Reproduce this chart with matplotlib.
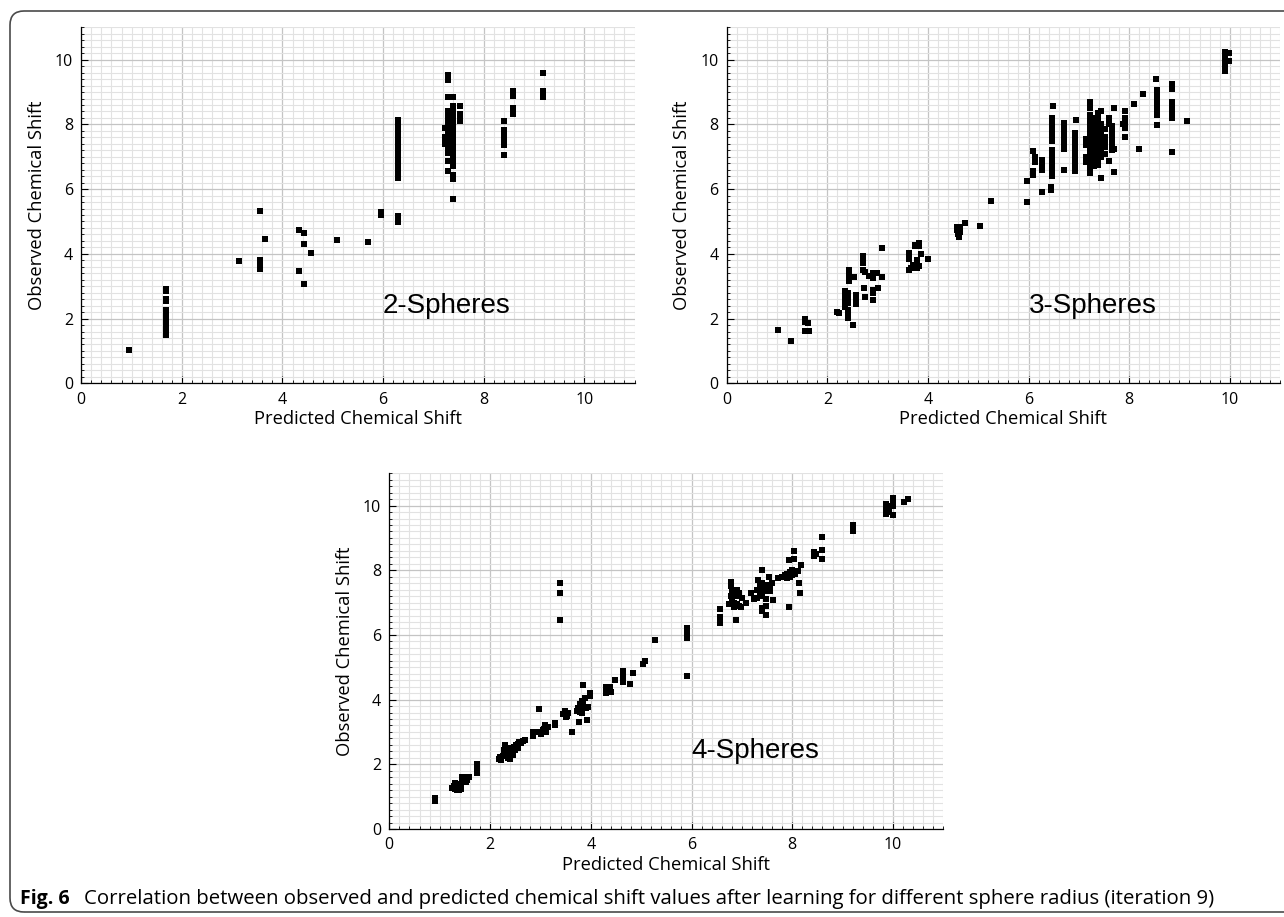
import matplotlib
matplotlib.use("Agg")
import matplotlib.pyplot as plt
from matplotlib.patches import FancyBboxPatch
from matplotlib.ticker import MultipleLocator

# ---- 2-Spheres: predicted (x) vs observed (y) ----
x_2sph = [0.95,
          1.69, 1.69, 1.69, 1.69, 1.69, 1.69, 1.69, 1.69, 1.69, 1.69, 1.69, 1.69,
          3.14, 3.56, 3.66, 3.56, 3.56, 3.56, 3.56,
          4.33, 4.43, 4.43, 4.57, 4.33, 4.43,
          5.09, 5.71, 5.95, 5.95, 6.30, 6.30,
          6.30, 6.30, 6.30, 6.30, 6.30, 6.30, 6.30, 6.30, 6.30, 6.30,
          6.30, 6.30, 6.30, 6.30, 6.30, 6.30, 6.30, 6.30, 6.30,
          7.30, 7.30, 7.30, 7.30, 7.30, 7.30, 7.30, 7.30, 7.30, 7.30, 7.30, 7.30,
          7.30, 7.30, 7.30, 7.30, 7.30, 7.30,
          7.40, 7.40, 7.40, 7.40, 7.40, 7.40, 7.40, 7.40, 7.40, 7.40, 7.40, 7.40,
          7.40, 7.40, 7.40, 7.40, 7.40, 7.40, 7.40, 7.40, 7.40, 7.40, 7.40,
          7.24, 7.24, 7.24, 7.24,
          7.53, 7.53, 7.53, 7.53,
          8.41, 8.41, 8.41, 8.41, 8.41, 8.41, 8.41, 8.41,
          8.59, 8.59, 8.59, 8.59, 8.59, 8.59,
          9.17, 9.17, 9.17, 9.17]
y_2sph = [1.03,
          2.92, 2.85, 2.62, 2.55, 2.25, 2.12, 2.02, 1.94, 1.86, 1.78, 1.62, 1.50,
          3.78, 5.32, 4.46, 3.82, 3.72, 3.62, 3.52,
          4.75, 4.64, 4.30, 4.02, 3.47, 3.06,
          4.44, 4.37, 5.30, 5.21, 5.16, 4.99,
          8.15, 8.05, 7.95, 7.85, 7.75, 7.65, 7.55, 7.45, 7.35, 7.25,
          7.15, 7.05, 6.95, 6.85, 6.75, 6.65, 6.55, 6.45, 6.35,
          9.54, 9.36, 8.85, 8.40, 8.30, 8.20, 8.10, 8.00, 7.90, 7.80, 7.70, 7.60,
          7.50, 7.40, 7.30, 7.12, 6.86, 6.57,
          8.85, 8.58, 8.40, 8.30, 8.20, 8.10, 8.00, 7.90, 7.80, 7.70, 7.60, 7.50,
          7.40, 7.30, 7.20, 7.10, 7.00, 6.90, 6.80, 6.70, 6.45, 6.30, 5.70,
          7.89, 7.62, 7.52, 7.40,
          8.58, 8.31, 8.20, 8.10,
          8.11, 7.84, 7.74, 7.64, 7.56, 7.48, 7.35, 7.06,
          9.03, 8.92, 8.87, 8.51, 8.41, 8.31,
          9.60, 9.03, 8.92, 8.85]

# ---- 3-Spheres ----
x_3sph = [1.02, 1.28, 1.56, 1.56, 1.62, 1.56, 1.64,
          2.19, 2.24,
          2.36, 2.36, 2.36, 2.36, 2.36, 2.36,
          2.41, 2.41, 2.41, 2.41, 2.41, 2.41, 2.41,
          2.51, 2.44, 2.44, 2.44, 2.44, 2.44, 2.53,
          2.57, 2.57, 2.56,
          2.71, 2.71, 2.71, 2.71, 2.74, 2.82, 2.90, 2.99, 2.90, 3.08, 3.08,
          2.73, 2.75, 2.90, 2.90, 3.00, 2.90,
          3.62, 3.62, 3.62, 3.66, 3.70, 3.74, 3.74, 3.83, 3.83, 3.86, 3.79, 3.77, 3.79, 3.83, 4.01,
          4.57, 4.63, 4.57, 4.63, 4.60, 4.62, 4.74, 5.04, 5.26,
          5.97, 5.97,
          6.09, 6.09, 6.09, 6.12, 6.12,
          6.27, 6.27, 6.27, 6.27, 6.27,
          6.45, 6.45, 6.48,
          6.47, 6.47, 6.47, 6.47, 6.47, 6.47, 6.47, 6.47, 6.47, 6.47, 6.47, 6.47,
          6.47, 6.47, 6.47, 6.47, 6.47,
          6.71, 6.71, 6.71, 6.71, 6.71, 6.71, 6.71, 6.71, 6.71,
          6.92, 6.92, 6.92, 6.92, 6.92, 6.92, 6.92, 6.92, 6.92, 6.92, 6.92, 6.92, 6.92,
          6.94, 7.23, 7.23,
          7.15, 7.15, 7.15, 7.15,
          7.23, 7.23, 7.23, 7.23, 7.23, 7.23, 7.23, 7.23, 7.23, 7.23, 7.23, 7.23,
          7.23, 7.23, 7.23, 7.23, 7.23, 7.23, 7.23,
          7.30, 7.30, 7.30, 7.30, 7.30, 7.30, 7.30, 7.30, 7.30, 7.30, 7.30, 7.30,
          7.30, 7.30, 7.30, 7.30,
          7.38, 7.38, 7.38, 7.38, 7.38, 7.38, 7.38, 7.38, 7.38, 7.38, 7.38, 7.38,
          7.38, 7.38, 7.38, 7.38, 7.38,
          7.45, 7.45, 7.45, 7.45, 7.45, 7.45, 7.45, 7.45, 7.45, 7.45, 7.45, 7.45, 7.45,
          7.52, 7.52, 7.52, 7.52, 7.52,
          7.59, 7.59, 7.59,
          7.66, 7.66, 7.66, 7.66, 7.66, 7.66,
          7.69, 7.69, 7.69,
          7.92, 7.92, 7.92, 7.92, 7.92, 7.92, 7.87,
          8.09, 8.27, 8.19, 8.53,
          8.55, 8.55, 8.55, 8.55, 8.55, 8.55, 8.55, 8.55, 8.55,
          8.86, 8.86, 8.86, 8.86, 8.86, 8.86, 8.86, 8.86,
          9.16,
          9.90, 9.90, 9.90, 9.90, 9.90, 9.90, 9.90,
          9.98, 9.98]
y_3sph = [1.64, 1.30, 1.98, 1.88, 1.86, 1.62, 1.62,
          2.19, 2.17,
          2.84, 2.75, 2.65, 2.55, 2.45, 2.35,
          2.79, 2.68, 2.58, 2.48, 2.28, 2.11, 2.01,
          1.80, 3.51, 3.41, 3.31, 3.21, 3.15, 3.30,
          2.73, 2.63, 2.45,
          3.92, 3.82, 3.71, 3.50, 3.45, 3.32, 3.42, 3.42, 3.25, 3.28, 4.18,
          2.94, 2.68, 2.87, 2.80, 2.94, 2.58,
          4.02, 3.84, 3.49, 3.55, 3.66, 4.23, 4.28, 4.33, 4.23, 3.99, 3.81, 3.61, 3.55, 3.61, 3.84,
          4.83, 4.83, 4.73, 4.68, 4.60, 4.52, 4.95, 4.86, 5.63,
          6.24, 5.60,
          6.45, 6.55, 7.17, 7.00, 6.85,
          6.90, 6.80, 6.70, 6.60, 5.91,
          5.98, 6.06, 8.58,
          8.20, 8.10, 8.00, 7.90, 7.80, 7.70, 7.60, 7.50, 7.20, 7.10, 7.00, 6.90,
          6.80, 6.70, 6.60, 6.50, 6.40,
          8.05, 7.95, 7.85, 7.75, 7.55, 7.45, 7.35, 7.25, 6.60,
          7.75, 7.65, 7.55, 7.45, 7.35, 7.25, 7.15, 7.05, 6.95, 6.85, 6.75, 6.65, 6.55,
          8.15, 8.69, 8.52,
          7.55, 7.35, 7.00, 6.85,
          8.30, 8.20, 8.10, 8.00, 7.90, 7.80, 7.70, 7.60, 7.50, 7.40, 7.30, 7.20,
          7.10, 7.00, 6.90, 6.80, 6.70, 6.60, 6.50,
          8.20, 8.10, 8.00, 7.90, 7.80, 7.70, 7.60, 7.50, 7.40, 7.30, 7.20, 7.10,
          7.00, 6.90, 6.80, 6.70,
          8.35, 8.25, 8.15, 8.05, 7.95, 7.85, 7.75, 7.65, 7.55, 7.45, 7.35, 7.25,
          7.15, 7.05, 6.95, 6.85, 6.75,
          8.41, 8.00, 7.90, 7.80, 7.70, 7.60, 7.50, 7.40, 7.30, 7.20, 7.10, 7.00, 6.35,
          7.85, 7.60, 7.45, 7.30, 7.10,
          8.20, 8.00, 6.88,
          7.94, 7.80, 7.65, 7.50, 7.35, 7.22,
          8.51, 7.24, 6.53,
          8.41, 8.20, 8.10, 8.00, 7.90, 7.62, 8.00,
          8.64, 8.93, 7.24, 9.41,
          9.05, 8.95, 8.85, 8.75, 8.60, 8.50, 8.40, 8.30, 7.97,
          9.24, 9.10, 8.70, 8.60, 8.50, 8.35, 8.20, 7.15,
          8.12,
          10.25, 10.15, 10.05, 9.95, 9.85, 9.75, 9.65,
          10.20, 9.95]

# ---- 4-Spheres ----
x_4sph = [0.91, 0.91,
          1.25, 1.28, 1.30, 1.32, 1.35, 1.38, 1.40, 1.42, 1.45, 1.48, 1.50, 1.52,
          1.55, 1.45, 1.38, 1.30, 1.55, 1.58, 1.42,
          1.75, 1.75, 1.75, 1.75,
          2.17, 2.20, 2.22, 2.25, 2.28, 2.30, 2.32, 2.35, 2.38, 2.40, 2.42, 2.45,
          2.48, 2.50, 2.52, 2.55, 2.58, 2.60, 2.65, 2.70, 2.35, 2.45, 2.28, 2.40,
          2.55, 2.62, 2.33,
          2.86, 2.86, 2.98,
          2.98, 3.02, 3.05, 3.08, 3.10, 3.15, 3.12,
          3.29, 3.29,
          3.45, 3.48, 3.50, 3.55, 3.52,
          3.63, 3.77, 3.93,
          3.72, 3.75, 3.78, 3.80, 3.82, 3.85, 3.88, 3.90, 3.83, 3.78, 3.95, 3.85,
          3.84, 3.99, 3.99,
          3.39, 3.39, 3.39,
          4.31, 4.31, 4.31, 4.38, 4.41, 4.48, 4.64, 4.64, 4.64, 4.64, 4.78, 4.84,
          5.04, 5.07, 5.28,
          5.92, 5.92, 5.92, 5.92, 5.91,
          6.56, 6.56, 6.56, 6.88,
          6.78, 6.78, 6.80, 6.78, 6.85, 6.90, 6.90, 6.95, 6.80, 6.85, 6.90, 6.95,
          6.98, 6.75, 6.85, 7.00,
          7.08, 7.19, 7.25,
          7.30, 7.35, 7.40, 7.40, 7.45, 7.50, 7.35, 7.45, 7.50, 7.55, 7.60, 7.40,
          7.55, 7.30, 7.32,
          7.39, 7.39, 7.39, 7.47, 7.47, 7.47, 7.62, 7.54, 7.72,
          7.80, 7.85, 7.90, 7.95, 8.00, 7.95, 7.90, 8.00, 8.05,
          7.94, 8.13, 8.15, 8.17, 8.12, 7.94, 8.03, 8.03,
          8.43, 8.43, 8.47,
          8.59, 8.60, 8.60,
          9.21, 9.21,
          9.87, 9.87, 9.87, 9.87, 9.92, 9.92,
          10.00, 10.00, 10.00, 10.00,
          10.22, 10.30]
y_4sph = [0.88, 0.96,
          1.28, 1.32, 1.25, 1.38, 1.22, 1.30, 1.40, 1.35, 1.45, 1.50, 1.55, 1.45,
          1.60, 1.62, 1.20, 1.42, 1.52, 1.62, 1.25,
          2.02, 1.92, 1.82, 1.74,
          2.15, 2.22, 2.12, 2.25, 2.35, 2.60, 2.30, 2.20, 2.40, 2.45, 2.35, 2.50,
          2.55, 2.45, 2.60, 2.62, 2.68, 2.70, 2.72, 2.75, 2.50, 2.30, 2.45, 2.15,
          2.50, 2.65, 2.38,
          3.01, 2.86, 3.70,
          3.00, 2.95, 3.05, 3.10, 3.20, 3.15, 3.00,
          3.27, 3.20,
          3.55, 3.64, 3.45, 3.60, 3.50,
          2.99, 3.30, 3.37,
          3.65, 3.75, 3.85, 3.70, 3.95, 3.80, 4.05, 3.75, 3.60, 3.62, 3.78, 3.90,
          4.46, 4.20, 4.10,
          7.60, 7.30, 6.46,
          4.40, 4.30, 4.20, 4.40, 4.25, 4.61, 4.90, 4.80, 4.65, 4.53, 4.49, 4.82,
          5.11, 5.18, 5.85,
          6.20, 6.10, 6.00, 5.90, 4.73,
          6.80, 6.55, 6.37, 6.47,
          7.65, 7.50, 7.35, 7.20, 7.30, 7.40, 7.20, 7.30, 7.05, 7.00, 6.95, 6.90,
          6.85, 6.95, 6.85, 7.15,
          6.99, 7.31, 7.10,
          7.40, 7.50, 7.45, 7.60, 7.50, 7.55, 7.30, 7.35, 7.40, 7.50, 7.60, 7.20,
          7.35, 7.15, 7.69,
          8.00, 6.83, 6.73, 6.88, 6.63, 7.10, 7.09, 7.79, 7.76,
          7.80, 7.85, 7.90, 7.95, 7.85, 7.80, 7.75, 8.00, 7.90,
          6.86, 7.61, 7.30, 8.16, 7.97, 8.33, 8.59, 8.35,
          8.58, 8.43, 8.50,
          9.02, 8.64, 8.36,
          9.41, 9.20,
          10.05, 9.95, 9.85, 9.75, 10.00, 9.80,
          10.25, 10.15, 10.00, 9.70,
          10.10, 10.20]

panel_labels = ["2-Spheres", "3-Spheres", "4-Spheres"]
caption_bold = "Fig. 6"
caption_text = ("Correlation between observed and predicted chemical shift values "
                "after learning for different sphere radius (iteration 9)")

FONT = "Open Sans"


def draw_panel(ax, xs, ys, label, xlabel_y):
    ax.set_xlim(0, 11)
    ax.set_ylim(0, 11)
    ax.set_axisbelow(True)
    for axis in (ax.xaxis, ax.yaxis):
        axis.set_major_locator(MultipleLocator(2))
        axis.set_minor_locator(MultipleLocator(0.2))
    ax.grid(which="minor", color="#e2e2e2", linewidth=0.8)
    ax.grid(which="major", color="#c4c4c4", linewidth=0.9)
    for side in ("top", "right"):
        ax.spines[side].set_visible(False)
    for side in ("left", "bottom"):
        ax.spines[side].set_linewidth(0.9)
    ax.tick_params(which="major", direction="in", length=5, width=0.8, pad=6,
                   labelsize=11.5)
    ax.tick_params(which="minor", direction="in", length=2.5, width=0.6)
    for lab in ax.get_xticklabels() + ax.get_yticklabels():
        lab.set_fontfamily(FONT)

    ax.scatter(xs, ys, marker="s", s=15, color="black", linewidths=0, zorder=3)

    ax.set_xlabel("Predicted Chemical Shift", fontsize=13.2, family=FONT,
                  va="center")
    ax.set_ylabel("Observed Chemical Shift", fontsize=13.2, family=FONT,
                  va="center")
    ax.xaxis.set_label_coords(0.5, xlabel_y)
    ax.yaxis.set_label_coords(-0.08, 0.5)
    ax.text(6.0, 2.4, label, fontsize=20, family="Liberation Sans",
            ha="left", va="center")


fig = plt.figure(figsize=(12.84, 9.17), dpi=100)

ax1 = fig.add_axes([0.0633, 0.582, 0.4309, 0.3882])
ax2 = fig.add_axes([0.5660, 0.582, 0.4309, 0.3882])
ax3 = fig.add_axes([0.3032, 0.096, 0.4315, 0.3879])

draw_panel(ax1, x_2sph, y_2sph, panel_labels[0], -0.10)
draw_panel(ax2, x_3sph, y_3sph, panel_labels[1], -0.10)
draw_panel(ax3, x_4sph, y_4sph, panel_labels[2], -0.10)

# rounded frame around the whole figure (open on the right, as in the page crop)
frame = FancyBboxPatch((0.10, 0.05), 13.5, 9.01,
                       boxstyle="round,pad=0,rounding_size=0.14",
                       transform=fig.dpi_scale_trans, fill=False,
                       edgecolor="#4a4a4a", linewidth=1.2)
fig.add_artist(frame)

fig.text(20 / 1284, 1 - 899 / 917, caption_bold, fontsize=14, weight="bold",
         family=FONT, ha="left", va="center")
fig.text(84 / 1284, 1 - 899 / 917, caption_text, fontsize=14.7,
         family=FONT, ha="left", va="center")

fig.savefig("out.png", dpi=100)
